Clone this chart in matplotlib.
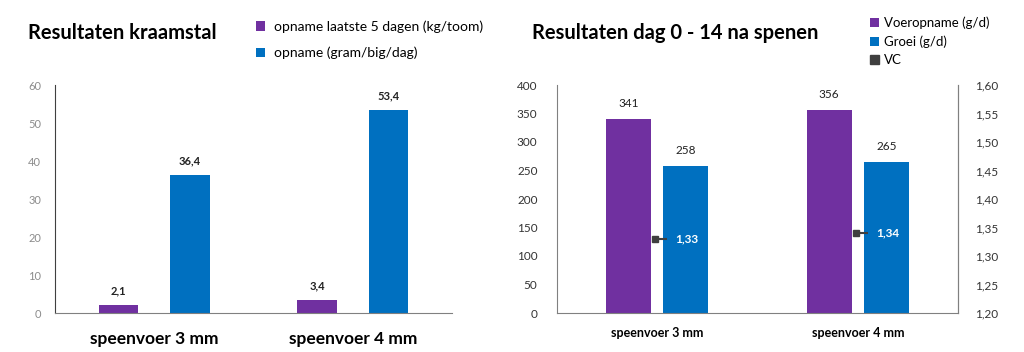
import numpy as np
import matplotlib.pyplot as plt
from matplotlib.patches import Patch

plt.rcParams['font.family'] = ['Lato', 'DejaVu Sans']

# Data
categories = ["speenvoer 3 mm", "speenvoer 4 mm"]
opname_5d = [2.1, 3.4]          # kg/toom
opname_gbd = [36.4, 53.4]       # gram/big/dag
voeropname = [341, 356]         # g/d
groei = [258, 265]              # g/d
vc = [1.33, 1.34]

purple = "#7030A0"
blue = "#0070C0"
dark = "#3F3F3F"

def nl(v, d=1):
    return f"{v:.{d}f}".replace(".", ",")

fig = plt.figure(figsize=(10.24, 3.52), dpi=100)
x = np.arange(len(categories))

# ---- Left chart ----
ax1 = fig.add_axes([55/1024, 39/352, 397/1024, 228/352])
w1, off1 = 0.2, 0.18
b1 = ax1.bar(x - off1, opname_5d, w1, color=purple, label="opname laatste 5 dagen (kg/toom)")
b2 = ax1.bar(x + off1, opname_gbd, w1, color=blue, label="opname (gram/big/dag)")
for bars, vals in [(b1, opname_5d), (b2, opname_gbd)]:
    for r, v in zip(bars, vals):
        ax1.annotate(nl(v), (r.get_x() + r.get_width()/2, v), xytext=(0, 6),
                     textcoords="offset points", ha="center", va="bottom",
                     fontsize=8, fontweight="bold", color="#222222")
ax1.set_xlim(-0.5, 1.5)
ax1.set_ylim(0, 60)
ax1.set_yticks(range(0, 61, 10))
ax1.set_xticks(x)
ax1.set_xticklabels(categories, fontsize=12.5, fontweight="bold")
ax1.tick_params(axis="y", length=0, labelsize=8, labelcolor="#8C8C8C", pad=10)
ax1.tick_params(axis="x", length=0, pad=13)
for s in ["top", "right"]:
    ax1.spines[s].set_visible(False)
ax1.spines["left"].set_color("#404040")
ax1.spines["bottom"].set_color("#808080")
fig.text(28/1024, 1 - 33/352, "Resultaten kraamstal", fontsize=14.5, fontweight="bold",
         va="center", ha="left")
fig.legend(handles=[b1, b2], loc="upper left", bbox_to_anchor=(243/1024, 1 - 8/352),
           frameon=False, fontsize=10, handlelength=0.7, handleheight=0.7,
           handletextpad=0.6, labelspacing=1.0)

# ---- Right chart ----
ax2 = fig.add_axes([557/1024, 39/352, 401/1024, 228/352])
w2, off2 = 0.225, 0.143
c1 = ax2.bar(x - off2, voeropname, w2, color=purple, label="Voeropname (g/d)")
c2 = ax2.bar(x + off2, groei, w2, color=blue, label="Groei (g/d)")
for bars, vals in [(c1, voeropname), (c2, groei)]:
    for r, v in zip(bars, vals):
        ax2.annotate(str(v), (r.get_x() + r.get_width()/2, v), xytext=(0, 7),
                     textcoords="offset points", ha="center", va="bottom",
                     fontsize=8.5, color="#222222")
ax2.set_xlim(-0.5, 1.5)
ax2.set_ylim(0, 400)
ax2.set_yticks(range(0, 401, 50))
ax2.set_xticks(x)
ax2.set_xticklabels(categories, fontsize=9, fontweight="bold")
ax2.tick_params(axis="y", length=0, labelsize=8.5, labelcolor="#333333", pad=14)
ax2.tick_params(axis="x", length=0, pad=10)
ax2.spines["top"].set_visible(False)
for s in ["left", "bottom", "right"]:
    ax2.spines[s].set_color("#808080")

ax3 = ax2.twinx()
ax3.set_ylim(1.20, 1.60)
ax3.set_yticks(np.arange(1.20, 1.601, 0.05))
ax3.set_yticklabels([nl(t, 2) for t in np.arange(1.20, 1.601, 0.05)])
ax3.tick_params(axis="y", length=0, labelsize=8.5, labelcolor="#333333", pad=12)
for s in ["top", "left", "bottom"]:
    ax3.spines[s].set_visible(False)
ax3.spines["right"].set_color("#808080")
ax3.errorbar(x - 0.01, vc, xerr=[[0, 0], [0.06, 0.06]], fmt="s", color=dark,
             ms=5, elinewidth=1.5, capsize=0, linestyle="none")
vc_h = Patch(color=dark, label="VC")
for xi, v in zip(x, vc):
    ax3.annotate(nl(v, 2), (xi + 0.09, v), ha="left", va="center",
                 fontsize=8.5, fontweight="bold", color="white")

fig.text(532/1024, 1 - 33/352, "Resultaten dag 0 - 14 na spenen", fontsize=14.5,
         fontweight="bold", va="center", ha="left")
fig.legend(handles=[c1, c2, vc_h], loc="upper left", bbox_to_anchor=(858/1024, 1 - 5/352),
           frameon=False, fontsize=9.5, handlelength=0.7, handleheight=0.7,
           handletextpad=0.4, labelspacing=0.45)

fig.savefig("out.png", dpi=100)
